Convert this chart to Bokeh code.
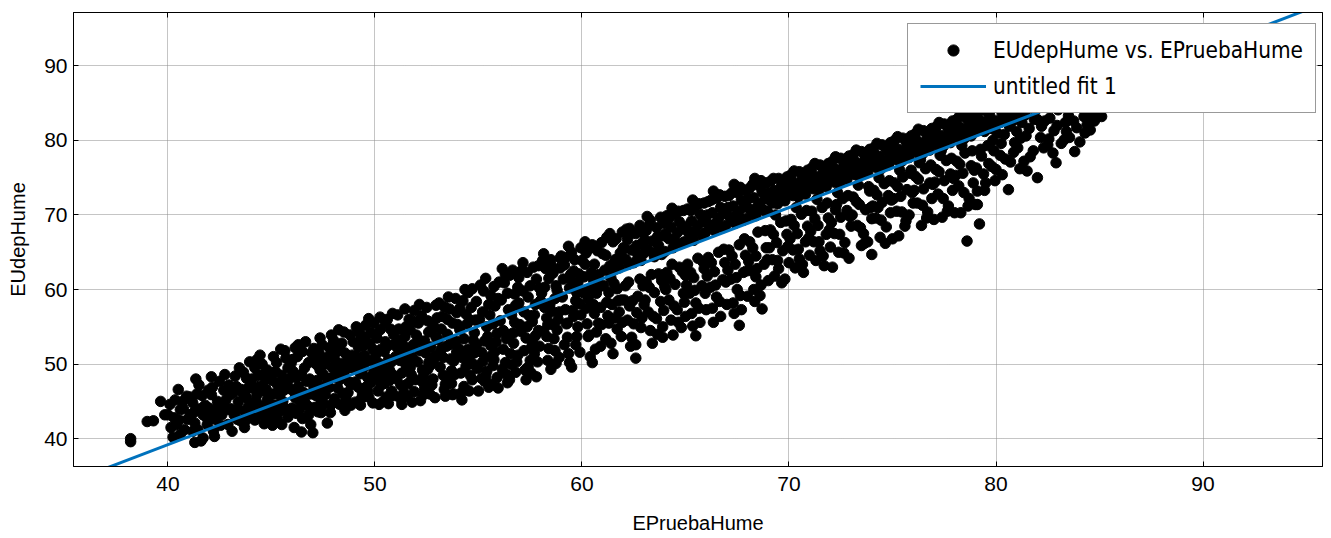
from bokeh.plotting import figure
from bokeh.models import (Range1d, FixedTicker, LinearAxis, CustomJSTickFormatter,
                          Legend, LegendItem)
from bokeh.embed import file_html
from bokeh.resources import INLINE

# (EPruebaHume, EUdepHume) pairs
puntos = [
 (38.2,40.0),(38.2,39.6),(39.0,42.3),(39.3,42.4),(39.65,45.0),(39.85,43.2),
 (40.1,44.6),(40.0,43.2),(40.5,46.6),(40.4,41.9),(40.6,40.6),(40.8,41.2),(40.7,45.0),(40.9,45.7),(40.3,42.8),(40.6,43.9),
 (41.2,44.8),(41.1,43.2),(41.3,42.1),(41.5,47.2),(41.3,39.5),(41.6,39.7),(41.7,40.1),(41.7,43.2),(41.9,41.9),(41.4,46.0),(41.8,44.5),(41.2,41.0),
 (42.1,45.9),(42.0,44.1),(42.1,48.3),(42.5,47.7),(42.4,45.0),(42.3,42.6),(42.2,41.0),(42.6,43.2),(42.8,45.2),(43.0,45.9),(42.9,41.9),(42.7,46.5),(42.4,44.0),
 (43.1,41.0),(43.2,43.2),(43.4,45.0),(43.5,42.4),(43.8,48.1),(44.0,47.2),(43.8,45.5),(43.7,43.7),(43.7,41.5),(43.3,47.0),(43.6,46.2),(43.9,44.4),(43.4,44.0),(43.95,50.3),
 (44.1,44.1),(44.2,49.5),(44.3,45.9),(44.5,43.2),(44.7,47.9),(44.8,45.2),(45.0,44.6),(44.4,47.0),(44.6,48.6),(44.2,42.5),(44.9,42.8),(44.6,46.4),(44.3,50.6),(44.8,49.2),(44.1,46.8),
 (45.1,51.0),(45.2,49.0),(45.3,47.2),(45.4,45.9),(45.4,43.7),(45.5,41.9),(45.7,50.8),(45.8,49.5),(45.9,48.1),(45.6,46.5),(45.2,44.5),(45.7,44.0),(45.9,46.7),(45.5,48.5),(45.8,42.9),(45.3,42.6),(45.1,46.0),
 (46.0,50.6),(46.1,46.3),(46.0,44.1),(46.1,41.5),(46.3,52.6),(46.5,51.7),(46.6,49.5),(46.7,47.7),(46.6,45.0),(46.9,41.9),(47.0,40.8),(46.8,43.2),(46.2,48.2),(46.4,44.9),(46.8,50.2),(46.3,47.0),(46.5,42.7),(46.9,46.0),(46.2,43.4),
 (47.05,52.1),(47.3,51.5),(47.2,49.9),(47.5,50.8),(47.5,48.6),(47.7,48.1),(47.6,45.9),(47.7,42.1),(47.9,53.9),(47.3,46.8),(47.1,44.2),(47.4,43.5),(47.8,46.9),(47.2,47.8),(47.9,44.6),(47.6,50.0),(47.4,45.1),(47.8,52.2),
 (48.0,53.2),(47.95,49.5),(48.2,46.8),(48.3,44.6),(48.1,51.5),(48.4,52.8),(48.5,48.4),(48.6,45.5),(48.7,50.6),(48.8,53.9),(48.9,47.3),(48.3,47.9),(48.6,44.8),(48.9,51.2),(48.2,49.0),(48.7,46.2),(48.5,54.3),(48.9,49.5),
 (49.1,55.0),(49.2,52.3),(49.3,48.7),(49.4,46.0),(49.5,53.6),(49.6,50.4),(49.7,56.1),(49.8,47.5),(49.9,44.8),(49.3,44.5),(49.5,51.2),(49.8,54.2),(49.1,49.9),(49.6,47.0),(49.9,52.0),(49.4,50.8),(49.7,45.6),(49.2,46.9),(49.95,49.0),
 (50.1,53.5),(50.2,50.1),(50.3,47.2),(50.4,45.0),(50.5,55.5),(50.6,52.4),(50.7,49.2),(50.8,46.4),(50.9,54.0),(51.0,51.0),(50.2,44.6),(50.4,48.6),(50.6,56.0),(50.8,50.3),(50.3,52.0),(50.7,47.8),(50.95,45.8),(50.1,48.0),(50.5,53.0),
 (51.1,56.6),(51.2,53.2),(51.3,48.8),(51.4,46.2),(51.5,55.0),(51.6,51.6),(51.7,49.5),(51.8,44.9),(51.9,57.2),(52.0,53.9),(51.2,50.5),(51.4,52.4),(51.6,47.4),(51.8,51.0),(51.3,44.6),(51.7,54.6),(51.95,47.9),(51.5,49.9),(51.9,46.3),
 (52.1,55.5),(52.2,51.8),(52.3,49.2),(52.4,46.7),(52.5,57.6),(52.6,54.3),(52.7,52.3),(52.8,48.0),(52.9,45.5),(53.0,56.2),(52.2,45.1),(52.4,53.1),(52.6,50.2),(52.8,55.4),(52.3,47.6),(52.9,51.1),(52.7,49.9),(52.5,47.0),(52.95,53.6),
 (53.1,58.2),(53.2,54.7),(53.3,50.9),(53.4,47.3),(53.5,56.0),(53.6,52.6),(53.7,49.1),(53.8,46.0),(53.9,58.8),(54.0,55.3),(53.2,52.0),(53.4,45.7),(53.6,57.4),(53.8,50.4),(53.3,48.5),(53.9,53.1),(53.7,47.4),(53.5,54.0),(53.95,51.6),
 (54.1,57.5),(54.2,45.2),(54.3,53.4),(54.4,49.7),(54.5,59.6),(54.6,55.9),(54.7,47.9),(54.8,51.5),(54.9,58.4),(55.0,46.4),(54.2,50.9),(54.4,56.7),(54.6,48.5),(54.8,54.2),(54.3,47.0),(54.9,52.6),(54.7,60.1),(54.5,52.0),(54.1,54.6),
 (55.1,60.6),(55.2,57.0),(55.3,53.1),(55.4,49.0),(55.5,46.9),(55.6,59.2),(55.7,55.4),(55.8,51.7),(55.9,48.2),(56.0,61.0),(55.2,50.3),(55.4,55.0),(55.6,52.5),(55.8,57.8),(55.3,47.7),(55.9,54.1),(55.7,49.8),(55.5,58.0),(55.95,46.8),
 (56.1,58.6),(56.2,54.5),(56.3,50.2),(56.4,47.5),(56.5,61.9),(56.6,56.6),(56.7,52.8),(56.8,48.9),(56.9,60.3),(57.0,55.3),(56.2,52.0),(56.4,59.5),(56.6,49.9),(56.8,57.9),(56.3,62.0),(56.9,51.2),(56.7,54.2),(56.5,47.9),(56.95,58.2),
 (57.1,62.6),(57.2,57.0),(57.3,53.5),(57.4,49.6),(57.5,60.5),(57.6,55.7),(57.7,51.4),(57.8,48.3),(57.9,63.2),(58.0,58.5),(57.2,51.8),(57.4,59.0),(57.6,53.0),(57.8,61.4),(57.3,47.9),(57.9,54.5),(57.7,56.6),(57.5,50.5),(57.95,52.4),
 (58.1,63.9),(58.2,60.3),(58.3,56.2),(58.4,52.1),(58.5,49.3),(58.6,62.2),(58.7,58.8),(58.8,54.6),(58.9,50.9),(59.0,64.5),(58.2,57.6),(58.4,61.5),(58.6,55.3),(58.8,59.9),(58.3,53.7),(58.9,57.0),(58.7,51.8),(58.5,64.0),(58.95,62.9),
 (59.1,61.4),(59.2,57.3),(59.3,53.6),(59.4,50.2),(59.5,65.0),(59.6,62.5),(59.7,58.5),(59.8,55.0),(59.9,51.6),(60.0,63.9),(59.2,64.3),(59.4,60.2),(59.6,56.4),(59.8,60.9),(59.3,55.5),(59.9,58.1),(59.7,52.6),(59.5,49.6),(59.95,65.6),
 (60.1,61.7),(60.2,57.5),(60.3,53.7),(60.4,51.0),(60.5,66.0),(60.6,63.4),(60.7,59.5),(60.8,55.5),(60.9,52.4),(61.0,64.8),(60.2,64.9),(60.4,60.1),(60.6,56.8),(60.8,62.0),(60.3,58.8),(60.9,57.6),(60.7,54.3),(60.5,50.2),(60.95,66.3),
 (61.1,62.6),(61.2,58.3),(61.3,55.5),(61.4,52.8),(61.5,66.4),(61.6,64.0),(61.7,60.1),(61.8,57.0),(61.9,53.7),(62.0,65.6),(61.2,67.0),(61.4,61.5),(61.6,56.2),(61.8,62.9),(61.3,59.6),(61.9,58.6),(61.7,54.7),(61.5,51.4),(61.95,67.7),
 (62.1,64.1),(62.2,66.7),(62.3,68.2),(62.4,65.3),(62.5,63.6),(62.6,67.5),(62.7,64.7),(62.8,68.6),(62.9,66.2),(63.0,64.9),
 (62.1,60.5),(62.3,57.8),(62.5,55.4),(62.6,50.8),(62.7,59.1),(62.9,56.2),(62.4,53.6),(62.2,55.9),(62.8,61.4),(63.0,58.0),(62.6,52.6),
 (63.1,67.9),(63.2,65.3),(63.3,69.3),(63.4,66.5),(63.5,64.4),(63.6,68.3),(63.7,65.9),(63.8,69.7),(63.9,67.2),(64.0,65.1),
 (63.1,61.0),(63.2,57.0),(63.3,54.5),(63.5,59.6),(63.6,56.1),(63.7,62.1),(63.8,58.4),(63.9,55.0),(64.0,60.4),(63.4,52.8),(63.9,53.6),
 (64.1,69.9),(64.2,66.8),(64.3,68.4),(64.4,65.6),(64.5,70.2),(64.6,67.6),(64.7,69.1),(64.8,66.2),(64.9,70.6),(65.0,68.0),
 (64.1,62.3),(64.2,58.6),(64.3,55.9),(64.5,60.7),(64.6,57.3),(64.7,63.0),(64.8,54.9),(64.9,59.5),(65.0,61.9),(64.4,53.9),(65.0,56.4),
 (65.1,70.8),(65.2,67.4),(65.3,69.2),(65.4,66.6),(65.5,71.3),(65.6,68.6),(65.7,70.1),(65.8,67.3),(65.9,71.6),(66.0,69.0),
 (65.1,63.4),(65.2,59.5),(65.3,56.8),(65.4,61.6),(65.5,58.2),(65.6,64.2),(65.7,55.6),(65.8,60.5),(65.9,62.8),(66.0,57.3),(65.5,53.8),
 (66.1,71.8),(66.2,68.6),(66.3,70.3),(66.4,67.9),(66.5,72.2),(66.6,69.6),(66.7,71.0),(66.8,68.3),(66.9,72.5),(67.0,70.1),
 (66.1,64.3),(66.2,60.3),(66.3,57.5),(66.4,62.4),(66.5,59.0),(66.6,65.0),(66.7,56.4),(66.8,61.3),(66.9,63.6),(67.0,58.0),
 (67.1,72.6),(67.2,69.4),(67.3,71.2),(67.4,68.9),(67.5,73.0),(67.6,70.5),(67.7,72.0),(67.8,69.3),(67.9,73.3),(68.0,71.0),
 (67.1,65.3),(67.2,61.4),(67.3,58.2),(67.4,63.4),(67.5,60.0),(67.6,66.0),(67.7,57.3),(67.8,62.3),(67.9,64.6),(68.0,59.1),(67.6,55.2),
 (68.1,73.6),(68.2,70.4),(68.3,72.3),(68.4,69.9),(68.5,74.0),(68.6,71.5),(68.7,73.1),(68.8,70.6),(68.9,74.3),(69.0,72.1),
 (68.1,66.4),(68.2,62.5),(68.3,60.0),(68.4,64.5),(68.5,67.7),(68.6,59.2),(68.7,57.4),(68.8,63.4),(68.9,65.6),(69.0,61.2),(68.4,61.7),
 (69.1,74.5),(69.2,71.6),(69.3,73.3),(69.4,72.2),(69.5,74.9),(69.6,72.8),(69.7,73.9),(69.8,71.9),(69.9,75.1),(70.0,73.2),
 (69.1,68.0),(69.2,64.0),(69.3,61.8),(69.4,66.3),(69.5,62.8),(69.6,69.0),(69.7,65.2),(69.8,61.4),(69.9,67.4),(70.0,63.6),
 (70.1,75.4),(70.2,72.6),(70.3,74.3),(70.4,73.2),(70.5,75.8),(70.6,73.7),(70.7,74.9),(70.8,72.8),(70.9,76.0),(71.0,74.2),
 (70.1,69.4),(70.2,65.3),(70.3,62.9),(70.4,67.5),(70.5,64.1),(70.6,70.1),(70.7,62.3),(70.8,66.4),(70.9,68.5),(71.0,64.6),
 (71.1,76.3),(71.2,73.5),(71.3,75.2),(71.4,74.1),(71.5,76.7),(71.6,74.6),(71.7,75.8),(71.8,73.8),(71.9,76.9),(72.0,75.1),
 (71.1,70.5),(71.2,66.4),(71.3,63.9),(71.4,68.6),(71.5,65.2),(71.6,71.0),(71.7,63.2),(71.8,67.4),(71.9,69.6),(72.0,65.7),
 (72.1,77.2),(72.2,74.4),(72.3,76.1),(72.4,75.0),(72.5,77.6),(72.6,75.5),(72.7,76.7),(72.8,74.8),(72.9,77.9),(73.0,76.0),
 (72.1,63.0),(72.2,67.5),(72.3,71.4),(72.4,65.0),(72.5,69.7),(72.6,72.2),(72.7,66.3),(72.8,70.6),(72.9,64.2),(73.0,68.5),
 (73.1,78.1),(73.2,75.4),(73.3,77.0),(73.4,76.0),(73.5,78.5),(73.6,76.4),(73.7,77.6),(73.8,75.7),(73.9,78.8),(74.0,76.9),
 (73.1,72.4),(73.3,68.6),(73.5,65.9),(73.7,70.7),(73.8,66.4),(73.9,73.2),(74.0,69.5),(73.4,71.4),(73.6,67.5),(74.0,64.7),
 (74.1,79.0),(74.2,76.4),(74.3,77.9),(74.4,77.0),(74.5,79.4),(74.6,77.3),(74.7,78.6),(74.8,76.7),(74.9,79.7),(75.0,77.8),
 (74.1,73.3),(74.2,69.6),(74.4,67.0),(74.5,71.7),(74.6,74.2),(74.7,68.4),(74.8,72.6),(74.9,70.3),(75.0,66.8),(74.3,71.0),
 (75.1,80.0),(75.2,77.4),(75.3,78.8),(75.4,78.0),(75.5,80.3),(75.6,78.3),(75.7,79.5),(75.8,77.7),(75.9,80.6),(76.0,78.7),
 (75.1,74.3),(75.2,70.5),(75.4,72.5),(75.5,75.1),(75.6,68.5),(75.7,73.4),(75.8,70.0),(75.9,76.0),(76.0,71.6),(75.3,67.2),
 (76.1,80.9),(76.2,78.4),(76.3,79.8),(76.4,79.0),(76.5,81.3),(76.6,79.3),(76.7,80.5),(76.8,78.7),(76.9,81.6),(77.0,79.7),
 (76.1,75.2),(76.2,71.6),(76.4,68.6),(76.5,73.5),(76.6,76.2),(76.7,70.4),(76.8,74.3),(76.9,72.2),(77.0,69.4),(76.3,77.0),
 (77.1,81.8),(77.2,79.4),(77.3,80.7),(77.4,80.0),(77.5,82.2),(77.6,80.3),(77.7,81.5),(77.8,79.7),(77.9,82.6),(78.0,80.7),
 (77.1,76.1),(77.2,72.8),(77.4,69.7),(77.5,74.6),(77.6,77.3),(77.7,71.2),(77.8,75.5),(77.9,73.3),(78.0,70.3),(77.3,78.0),
 (78.1,82.8),(78.2,80.4),(78.3,81.7),(78.4,81.0),(78.5,83.1),(78.6,81.3),(78.7,82.4),(78.8,80.6),(78.9,83.5),(79.0,81.6),
 (78.1,77.2),(78.2,73.9),(78.3,70.3),(78.4,75.6),(78.5,78.3),(78.6,66.5),(78.7,72.2),(78.8,76.6),(78.9,74.3),(79.0,71.4),(79.2,68.8),
 (79.1,83.6),(79.2,81.4),(79.3,82.6),(79.4,82.0),(79.5,84.0),(79.6,82.3),(79.7,83.3),(79.8,81.6),(79.9,84.4),(80.0,82.6),
 (79.1,71.4),(79.1,73.2),(79.5,74.3),(79.3,77.9),(79.6,79.3),(79.8,76.5),(80.0,76.1),(79.4,75.5),(79.9,78.6),
 (80.1,84.6),(80.2,82.4),(80.3,83.6),(80.4,83.0),(80.5,85.0),(80.6,83.3),(80.7,84.3),(80.8,82.6),(80.9,85.4),(81.0,83.6),
 (80.6,73.4),(80.9,79.7),(80.2,78.0),(80.4,80.8),(80.7,77.1),(81.0,81.2),(80.3,75.4),
 (81.35,77.2),(81.5,75.9),(82.0,75.0),(81.2,80.3),(81.6,81.6),(81.8,78.6),(81.1,84.6),(81.4,83.4),(81.7,85.5),(81.9,84.0),(82.0,82.8),(81.3,86.0),
 (82.3,79.0),(82.5,79.4),(82.9,77.0),(82.2,81.9),(82.6,83.0),(82.8,81.3),(82.4,84.6),(82.7,86.2),(82.1,85.7),(83.0,84.1),
 (83.3,80.1),(83.4,81.2),(83.8,78.5),(83.9,81.7),(83.5,83.3),(83.7,84.5),(83.2,86.5),(83.6,87.0),
 (84.4,82.1),(84.3,81.0),(85.1,83.2),(84.8,84.0),(84.6,83.4),(85.3,84.5),(84.1,84.8),(84.9,86.8),
]

# further points read from the denser parts of the cloud
puntos_densos = [
 (40.15,41.5),(40.35,45.2),(40.55,42.5),(40.75,44.0),(40.95,42.6),(40.25,40.2),
 (41.05,45.6),(41.25,43.5),(41.45,41.2),(41.55,44.0),(41.65,45.8),(41.85,42.9),(41.95,46.5),(41.35,48.0),
 (42.05,42.8),(42.15,46.9),(42.35,43.6),(42.55,41.8),(42.65,44.6),(42.75,48.6),(42.85,43.9),(42.95,47.2),(42.25,40.3),
 (43.05,44.0),(43.15,46.2),(43.25,48.4),(43.35,42.6),(43.55,46.6),(43.65,48.9),(43.75,42.4),(43.85,46.7),(43.95,42.9),(43.45,49.5),
 (44.05,48.0),(44.15,43.4),(44.25,45.1),(44.35,48.5),(44.45,44.4),(44.55,50.0),(44.65,42.0),(44.75,46.6),(44.85,44.0),(44.95,48.2),(44.45,51.2),
 (45.05,47.8),(45.15,43.1),(45.25,50.2),(45.35,44.6),(45.45,47.6),(45.55,45.0),(45.65,51.8),(45.75,47.3),(45.85,43.5),(45.95,50.1),(45.45,52.0),(45.05,41.8),
 (46.05,49.0),(46.15,45.5),(46.25,51.0),(46.35,43.8),(46.45,48.6),(46.55,46.2),(46.65,53.0),(46.75,44.4),(46.85,48.0),(46.95,51.5),(46.45,40.9),(46.15,52.2),
 (47.05,47.0),(47.15,50.6),(47.25,43.6),(47.35,49.2),(47.45,52.6),(47.55,44.6),(47.65,47.2),(47.75,51.0),(47.85,43.5),(47.95,48.2),(47.35,53.5),(47.15,45.8),
 (48.05,45.4),(48.15,48.2),(48.25,52.4),(48.35,50.1),(48.45,46.1),(48.55,51.5),(48.65,49.4),(48.75,47.6),(48.85,44.5),(48.95,53.0),(48.25,54.6),(48.55,43.8),(48.05,50.6),
 (49.05,47.6),(49.15,51.0),(49.25,54.2),(49.35,45.4),(49.45,49.5),(49.55,55.2),(49.65,48.2),(49.75,52.8),(49.85,50.5),(49.95,55.5),(49.25,53.0),(49.65,46.4),(49.05,44.9),(49.45,52.5),
 (50.05,51.3),(50.15,46.4),(50.25,54.6),(50.35,49.6),(50.45,51.7),(50.55,45.6),(50.65,50.6),(50.75,54.7),(50.85,48.6),(50.95,52.7),(50.25,56.3),(50.65,44.7),(50.45,47.4),(50.85,56.8),
 (51.05,48.0),(51.15,54.7),(51.25,47.2),(51.35,51.4),(51.45,53.7),(51.55,45.7),(51.65,56.0),(51.75,48.6),(51.85,52.6),(51.95,55.7),(51.25,45.3),(51.65,50.7),(51.05,52.3),(51.45,57.4),
 (52.05,50.3),(52.15,53.2),(52.25,56.5),(52.35,48.4),(52.45,51.5),(52.55,55.8),(52.65,46.0),(52.75,54.6),(52.85,50.6),(52.95,57.9),(52.35,45.9),(52.75,47.2),(52.15,58.0),(52.55,49.3),
 (53.05,53.3),(53.15,49.6),(53.25,56.4),(53.35,46.6),(53.45,52.4),(53.55,59.0),(53.65,50.7),(53.75,55.5),(53.85,48.6),(53.95,56.9),(53.35,57.7),(53.75,45.9),(53.15,51.5),(53.55,48.0),
 (54.05,52.1),(54.15,48.8),(54.25,58.5),(54.35,51.3),(54.45,55.4),(54.55,46.4),(54.65,57.6),(54.75,50.0),(54.85,55.9),(54.95,49.4),(54.35,60.0),(54.75,53.2),(54.15,46.1),(54.55,50.9),
 (55.05,56.0),(55.15,51.6),(55.25,59.8),(55.35,48.3),(55.45,53.7),(55.55,56.6),(55.65,47.3),(55.75,60.4),(55.85,53.0),(55.95,58.8),(55.35,61.5),(55.75,50.6),(55.15,48.1),(55.55,51.0),
 (56.05,55.8),(56.15,49.3),(56.25,60.9),(56.35,53.4),(56.45,57.3),(56.55,51.4),(56.65,62.6),(56.75,55.6),(56.85,50.3),(56.95,61.6),(56.35,48.6),(56.75,59.4),(56.15,62.8),(56.55,54.0),
 (57.05,54.4),(57.15,59.8),(57.25,49.2),(57.35,62.3),(57.45,56.5),(57.55,52.2),(57.65,63.0),(57.75,58.0),(57.85,50.3),(57.95,60.2),(57.35,55.0),(57.75,53.8),(57.15,63.6),(57.55,48.8),
 (58.05,59.5),(58.15,54.4),(58.25,62.8),(58.35,50.5),(58.45,58.0),(58.55,63.1),(58.65,53.4),(58.75,60.5),(58.85,56.0),(58.95,64.2),(58.35,55.3),(58.75,50.1),(58.15,64.8),(58.55,57.1),
 (59.05,59.0),(59.15,63.3),(59.25,55.4),(59.35,51.4),(59.45,62.0),(59.55,57.2),(59.65,64.0),(59.75,53.7),(59.85,62.1),(59.95,56.6),(59.35,65.8),(59.75,59.6),(59.15,52.6),(59.55,61.0),
 (60.05,59.6),(60.15,63.4),(60.25,55.4),(60.35,65.5),(60.45,62.3),(60.55,58.0),(60.65,52.0),(60.75,65.2),(60.85,60.4),(60.95,55.3),(60.35,53.9),(60.75,61.3),(60.15,66.4),(60.55,61.3),
 (61.05,60.5),(61.15,64.6),(61.25,56.5),(61.35,63.2),(61.45,58.0),(61.55,62.6),(61.65,66.8),(61.75,58.5),(61.85,64.9),(61.95,55.6),(61.35,67.5),(61.75,63.8),(61.15,53.4),(61.55,60.8),
 (62.05,65.5),(62.25,63.4),(62.45,67.6),(62.65,65.9),(62.85,63.9),(62.95,67.6),(62.15,68.1),
 (62.05,58.6),(62.25,61.0),(62.45,58.5),(62.65,56.9),(62.85,54.9),(62.95,60.5),(62.35,52.4),
 (63.05,66.6),(63.25,68.6),(63.45,64.9),(63.65,67.1),(63.85,64.7),(63.95,68.9),(63.15,69.8),
 (63.05,58.6),(63.25,60.3),(63.45,56.4),(63.65,54.0),(63.85,61.2),(63.95,57.2),(63.35,62.0),
 (64.05,67.5),(64.25,69.7),(64.45,66.7),(64.65,70.5),(64.85,68.4),(64.95,66.4),(64.35,70.9),
 (64.05,60.0),(64.25,61.5),(64.45,57.8),(64.65,55.6),(64.85,62.4),(64.95,58.3),(64.35,63.4),
 (65.05,68.5),(65.25,70.6),(65.45,67.8),(65.65,71.5),(65.85,69.4),(65.95,67.6),(65.35,72.0),
 (65.05,60.6),(65.25,62.3),(65.45,59.9),(65.65,57.5),(65.85,63.7),(65.95,59.5),(65.35,55.1),
 (66.05,70.0),(66.25,72.0),(66.45,68.9),(66.65,72.7),(66.85,70.3),(66.95,68.6),(66.35,73.2),
 (66.05,61.8),(66.25,63.6),(66.45,60.6),(66.65,58.4),(66.85,65.4),(66.95,61.0),(66.35,55.6),
 (67.05,71.0),(67.25,73.0),(67.45,70.0),(67.65,73.7),(67.85,71.4),(67.95,69.5),(67.35,74.1),
 (67.05,62.6),(67.25,64.5),(67.45,61.6),(67.65,59.2),(67.85,66.8),(67.95,62.5),(67.35,56.8),
 (68.05,72.2),(68.25,74.1),(68.45,71.0),(68.65,74.6),(68.85,72.4),(68.95,70.5),(68.35,74.9),
 (68.05,63.8),(68.25,65.6),(68.45,62.8),(68.65,60.6),(68.85,67.9),(68.95,64.0),(68.35,58.4),
 (69.05,73.0),(69.25,74.9),(69.45,71.5),(69.65,74.0),(69.85,72.6),
 (69.05,65.6),(69.25,67.4),(69.45,63.9),(69.65,60.9),(69.85,69.2),(69.95,65.8),(69.35,70.0),
 (70.05,74.0),(70.25,75.9),(70.45,72.4),(70.65,75.1),(70.85,73.5),
 (70.05,66.8),(70.25,68.6),(70.45,65.4),(70.65,63.4),(70.85,70.6),(70.95,66.9),(70.35,71.0),
 (71.05,75.0),(71.25,76.9),(71.45,73.4),(71.65,76.2),(71.85,74.5),
 (71.05,67.8),(71.25,69.5),(71.45,66.4),(71.65,64.5),(71.85,71.6),(71.95,68.0),(71.35,72.1),
 (72.05,76.0),(72.25,77.8),(72.45,74.3),(72.65,77.1),(72.85,75.4),
 (72.05,69.0),(72.25,70.7),(72.45,67.4),(72.65,64.9),(72.85,72.6),(72.95,69.8),(72.35,73.0),
 (73.05,76.9),(73.25,78.7),(73.45,75.3),(73.65,78.2),(73.85,76.5),
 (73.05,70.0),(73.25,71.8),(73.45,68.3),(73.65,66.2),(73.85,73.8),(73.95,71.0),(73.35,74.0),
 (74.05,77.8),(74.25,79.6),(74.45,76.2),(74.65,79.1),(74.85,77.5),
 (74.05,71.2),(74.25,72.7),(74.45,69.3),(74.65,66.2),(74.85,74.6),(74.95,72.0),(74.35,75.0),
 (75.05,78.8),(75.25,80.5),(75.45,77.2),(75.65,80.0),(75.85,78.5),
 (75.05,72.2),(75.25,73.8),(75.45,70.4),(75.65,69.2),(75.85,75.6),(75.95,73.0),(75.35,76.0),
 (76.05,79.8),(76.25,81.5),(76.45,78.2),(76.65,81.0),(76.85,79.5),
 (76.05,73.3),(76.25,74.8),(76.45,71.3),(76.65,69.6),(76.85,76.7),(76.95,74.1),(76.35,77.4),
 (77.05,80.8),(77.25,82.4),(77.45,79.2),(77.65,82.0),(77.85,80.5),
 (77.05,74.4),(77.25,75.8),(77.45,72.2),(77.65,70.5),(77.85,77.6),(77.95,74.9),(77.35,78.6),
 (78.05,81.8),(78.25,83.3),(78.45,80.2),(78.65,82.9),(78.85,81.5),
 (78.05,75.3),(78.25,76.8),(78.45,73.0),(78.65,71.2),(78.85,78.6),(78.95,76.0),(78.35,79.3),
 (79.05,82.7),(79.25,84.1),(79.45,81.2),(79.65,83.8),(79.85,82.4),
 (79.05,76.3),(79.25,78.8),(79.45,73.3),(79.65,76.9),(79.85,80.0),(79.95,74.6),
 (80.05,81.0),(80.25,79.6),(80.45,77.5),(80.65,81.9),(80.85,78.4),(81.05,79.0),(81.25,82.4),(81.45,80.6),(81.65,77.8),(81.85,82.8),(81.15,76.2),
 (82.15,80.4),(82.35,82.6),(82.55,80.2),(82.75,78.3),(82.95,82.0),(83.15,79.6),(83.35,82.4),(83.55,80.4),(83.75,82.6),(84.05,79.8),(84.25,83.2),(84.55,81.4),(84.75,82.6),
]

todos = puntos + puntos_densos
EPruebaHume = [pt[0] for pt in todos]
EUdepHume = [pt[1] for pt in todos]

# fitted line (untitled fit 1), read at two x values
fit_x = [36.0, 96.0]
fit_y = [34.96, 98.56]

x_ticks = [40, 50, 60, 70, 80, 90]
y_ticks = [40, 50, 60, 70, 80, 90]

p = figure(width=1323, height=536, output_backend="svg", toolbar_location=None,
           x_range=Range1d(35.44, 95.77), y_range=Range1d(36.27, 97.15),
           min_border_left=73, min_border_right=1, min_border_top=12, min_border_bottom=67,
           background_fill_color="white", border_fill_color="white")

p.outline_line_color = "black"
p.outline_line_width = 1

r_pts = p.scatter(EPruebaHume, EUdepHume, size=10.5, fill_color="black", line_color="black")
r_fit = p.line(fit_x, fit_y, line_color="#0072BD", line_width=3)

for ax in (p.xaxis[0], p.yaxis[0]):
    ax.major_tick_in = 5
    ax.major_tick_out = 0
    ax.minor_tick_line_color = None
    ax.axis_line_color = "black"
    ax.major_tick_line_color = "black"
    ax.major_label_text_font = "Liberation Sans"
    ax.major_label_text_font_size = "21px"
    ax.major_label_text_color = "black"
    ax.axis_label_text_font = "Liberation Sans"
    ax.axis_label_text_font_size = "20px"
    ax.axis_label_text_font_style = "normal"
    ax.axis_label_text_color = "black"

p.xaxis[0].ticker = FixedTicker(ticks=x_ticks)
p.yaxis[0].ticker = FixedTicker(ticks=y_ticks)
p.xaxis[0].axis_label = "EPruebaHume"
p.yaxis[0].axis_label = "EUdepHume"
p.xaxis[0].major_label_standoff = 10
p.xaxis[0].axis_label_standoff = 18
p.yaxis[0].major_label_standoff = 6
p.yaxis[0].axis_label_standoff = 12

blank = CustomJSTickFormatter(code="return ''")
top_ax = LinearAxis(ticker=FixedTicker(ticks=x_ticks), formatter=blank,
                    major_tick_in=5, major_tick_out=0, minor_tick_line_color=None,
                    major_label_standoff=0, major_label_text_font_size="1px",
                    axis_line_color="black")
right_ax = LinearAxis(ticker=FixedTicker(ticks=y_ticks), formatter=blank,
                      major_tick_in=5, major_tick_out=0, minor_tick_line_color=None,
                      major_label_standoff=0, major_label_text_font_size="1px",
                      axis_line_color="black")
p.add_layout(top_ax, "above")
p.add_layout(right_ax, "right")

for g in (p.xgrid[0], p.ygrid[0]):
    g.grid_line_color = "#8a8a8a"
    g.grid_line_dash = "1 1"
    g.grid_line_width = 1
p.xgrid[0].ticker = FixedTicker(ticks=x_ticks)
p.ygrid[0].ticker = FixedTicker(ticks=y_ticks)

legend = Legend(items=[LegendItem(label="EUdepHume vs. EPruebaHume", renderers=[r_pts]),
                       LegendItem(label="untitled fit 1", renderers=[r_fit])],
                location=(834, 353),
                glyph_width=66, glyph_height=28, label_height=28,
                label_standoff=7, padding=12, spacing=8, margin=0,
                label_text_font="DejaVu Sans Condensed", label_text_font_size="22.4px",
                label_text_color="black",
                border_line_color="#333333", border_line_width=1,
                background_fill_color="white", background_fill_alpha=1.0)
p.add_layout(legend)

open("out.html", "w").write(file_html(p, INLINE))
